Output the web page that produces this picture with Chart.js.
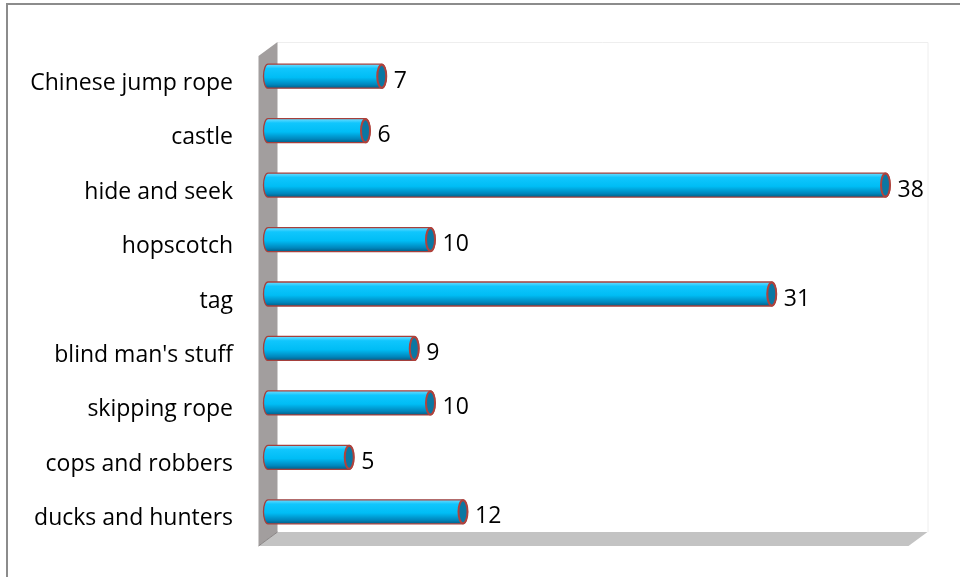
<!DOCTYPE html>
<html>
<head>
<meta charset="utf-8">
<script src="https://cdn.jsdelivr.net/npm/chart.js@4.4.1/dist/chart.umd.min.js"></script>
<style>
  html,body{margin:0;padding:0;background:#fff;}
  #wrap{width:960px;height:577px;position:relative;}
</style>
</head>
<body>
<div id="wrap"><canvas id="c" width="960" height="577"></canvas></div>
<script>
// data (top to bottom)
const games  = ['Chinese jump rope','castle','hide and seek','hopscotch','tag',"blind man's stuff",'skipping rope','cops and robbers','ducks and hunters'];
const counts = [7, 6, 38, 10, 31, 9, 10, 5, 12];
const xMax   = 40;

const FONT = '"Open Sans", sans-serif';
const DX = 9.5, DY = 7;   // half depth of the 3d box

// wall, floor, frame
const scenery = {
  id: 'scenery',
  beforeDatasetsDraw(chart) {
    const {ctx, chartArea: a, scales: {x}} = chart;
    const L = x.getPixelForValue(0), R = x.getPixelForValue(xMax);
    ctx.save();
    // outer frame
    ctx.strokeStyle = '#8c8c8c'; ctx.lineWidth = 2;
    ctx.strokeRect(7, 4, 1100, 1100);
    // faint back plane border
    ctx.strokeStyle = '#eeeeee'; ctx.lineWidth = 1;
    ctx.beginPath();
    ctx.moveTo(L + DX, a.top - DY + 0.5);
    ctx.lineTo(R + DX + 0.5, a.top - DY + 0.5);
    ctx.lineTo(R + DX + 0.5, a.bottom - DY);
    ctx.stroke();
    // floor
    ctx.fillStyle = '#c3c3c3';
    ctx.beginPath();
    ctx.moveTo(L + DX, a.bottom - DY);
    ctx.lineTo(R + DX, a.bottom - DY);
    ctx.lineTo(R - DX, a.bottom + DY);
    ctx.lineTo(L - DX, a.bottom + DY);
    ctx.closePath(); ctx.fill();
    // wall
    ctx.fillStyle = '#a29e9e';
    ctx.beginPath();
    ctx.moveTo(L + DX, a.top - DY);
    ctx.lineTo(L + DX, a.bottom - DY);
    ctx.lineTo(L - DX, a.bottom + DY);
    ctx.lineTo(L - DX, a.top + DY);
    ctx.closePath(); ctx.fill();
    ctx.strokeStyle = '#8a8686'; ctx.lineWidth = 1;
    ctx.beginPath();
    ctx.moveTo(L + DX, a.bottom - DY); ctx.lineTo(L - DX, a.bottom + DY);
    ctx.stroke();
    ctx.restore();
  }
};

// cylinders + value labels
const tubes = {
  id: 'tubes',
  afterDatasetsDraw(chart) {
    const {ctx} = chart;
    const meta = chart.getDatasetMeta(0);
    ctx.save();
    meta.data.forEach((bar, i) => {
      const p = bar.getProps(['x','y','base','height'], true);
      const top = p.y - p.height/2, bot = p.y + p.height/2;
      const rx = 4.5, ry = p.height/2;
      const g = ctx.createLinearGradient(0, top, 0, bot);
      g.addColorStop(0, '#6fdcff');
      g.addColorStop(0.18, '#10c6fd');
      g.addColorStop(0.55, '#00bdf5');
      g.addColorStop(0.85, '#0086bc');
      g.addColorStop(1, '#005f88');
      ctx.beginPath();
      ctx.moveTo(p.base, top);
      ctx.lineTo(p.x, top);
      ctx.ellipse(p.x, p.y, rx, ry, 0, -Math.PI/2, Math.PI/2);
      ctx.lineTo(p.base, bot);
      ctx.ellipse(p.base, p.y, rx, ry, 0, Math.PI/2, Math.PI*1.5);
      ctx.closePath();
      ctx.fillStyle = g; ctx.fill();
      ctx.strokeStyle = '#a5403c'; ctx.lineWidth = 1.3; ctx.stroke();
      // end cap
      ctx.beginPath();
      ctx.ellipse(p.x, p.y, rx, ry - 0.5, 0, 0, Math.PI*2);
      ctx.fillStyle = '#0b77a2'; ctx.fill();
      ctx.strokeStyle = '#b0423c'; ctx.lineWidth = 2; ctx.stroke();
      // value
      ctx.fillStyle = '#000';
      ctx.font = '23px ' + FONT;
      ctx.textAlign = 'left'; ctx.textBaseline = 'middle';
      ctx.fillText(String(counts[i]), p.x + 12, p.y + 5);
    });
    ctx.restore();
  }
};

new Chart(document.getElementById('c'), {
  type: 'bar',
  data: {
    labels: games,
    datasets: [{
      data: counts,
      backgroundColor: 'rgba(0,0,0,0)',
      borderWidth: 0,
      barThickness: 24
    }]
  },
  options: {
    indexAxis: 'y',
    responsive: false,
    animation: false,
    events: [],
    layout: { padding: { left: 0, right: 42, top: 49, bottom: 38 } },
    plugins: { legend: { display: false }, tooltip: { enabled: false } },
    scales: {
      x: { display: false, min: 0, max: xMax },
      y: {
        grid: { display: false, drawTicks: false, tickLength: 0 },
        border: { display: false },
        ticks: { color: '#000', padding: 35, labelOffset: 7, font: { family: FONT, size: 23 } },
        afterFit(s) { s.width = 268; s.paddingTop = 0; s.paddingBottom = 0; }
      }
    }
  },
  plugins: [scenery, tubes]
});
</script>
</body>
</html>
